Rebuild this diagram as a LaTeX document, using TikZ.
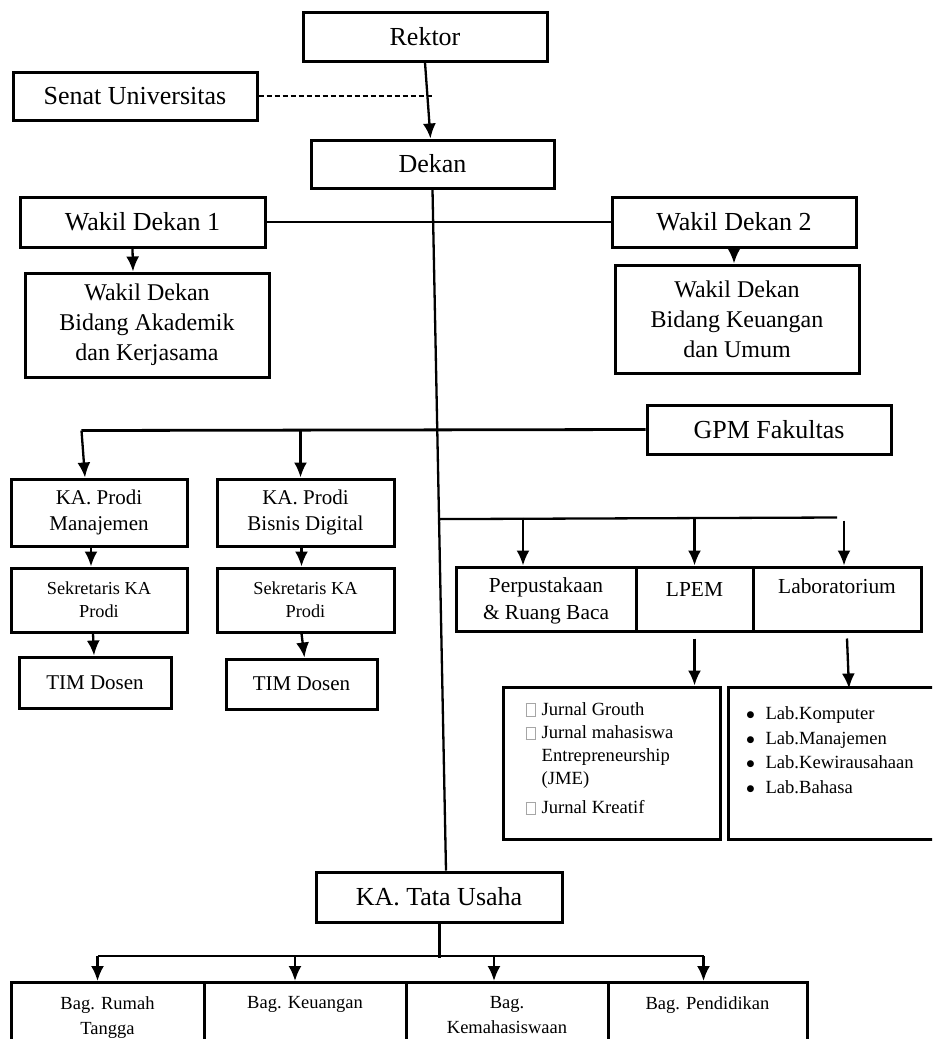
\documentclass[tikz,border=0pt]{standalone}
\usepackage{fontspec}
\setmainfont{Liberation Serif}
\newfontfamily\dejavu{DejaVu Sans}
\usetikzlibrary{positioning,arrows.meta}
\newcommand{\kotakkosong}{{\color{gray!70}\setlength{\fboxsep}{0pt}\setlength{\fboxrule}{0.7pt}\raisebox{-1pt}{\framebox[10pt]{\rule{0pt}{12pt}}}}}
\newcommand{\titik}{\raisebox{2pt}{\dejavu\fontsize{9}{9}\selectfont ●}}

\begin{document}
\begin{tikzpicture}[x=1pt,y=-1pt,
    kotak/.style={draw,line width=3pt,align=center,inner sep=0pt},
    garis/.style={line width=2.3pt},
    panah/.style={-{Latex[length=15pt,width=13pt]},line width=2.3pt},
    besar/.style={font=\fontsize{26}{31}\selectfont},
    sedang/.style={font=\fontsize{24}{30}\selectfont},
    prodi/.style={font=\fontsize{21}{26}\selectfont},
    sekr/.style={font=\fontsize{18.3}{23}\selectfont},
    unit/.style={align=center,inner sep=0pt,font=\fontsize{21.4}{27}\selectfont},
    bagian/.style={align=center,inner sep=0pt,font=\fontsize{18.5}{25}\selectfont},
    daftar/.style={inner sep=0pt,font=\fontsize{18.6}{23.3}\selectfont}]
  \useasboundingbox (0,0) rectangle (932,1039);
  \clip (0,0) rectangle (932,1039);

  % pimpinan
  \node[kotak,besar,minimum width=244pt,minimum height=49pt] (rektor) at (425,36.5) {Rektor};
  \node[kotak,besar,minimum width=244pt,minimum height=48pt] (senat) at (135,96) {Senat Universitas};
  \node[kotak,besar,minimum width=243pt,minimum height=48pt] (dekan) at (432.5,164) {Dekan};
  \node[kotak,besar,minimum width=245pt,minimum height=50pt] (wd1) at (142.5,222) {Wakil Dekan 1};
  \node[kotak,besar,minimum width=244pt,minimum height=50pt] (wd2) at (734,222) {Wakil Dekan 2};
  \node[kotak,sedang,minimum width=244pt,minimum height=104pt] (wdak) at (147,325) {Wakil Dekan\\Bidang Akademik\\dan Kerjasama};
  \node[kotak,sedang,minimum width=244pt,minimum height=108pt] (wdku) at (737,319) {Wakil Dekan\\Bidang Keuangan\\dan Umum};
  \node[kotak,besar,minimum width=244pt,minimum height=49pt] (gpm) at (769,429.5) {GPM Fakultas};

  % prodi
  \node[kotak,prodi,minimum width=176pt,minimum height=67pt] (kamj) at (99,512.5) {KA. Prodi\\Manajemen};
  \node[kotak,prodi,minimum width=177pt,minimum height=67pt] (kabd) at (305.5,512.5) {KA. Prodi\\Bisnis Digital};
  \node[kotak,sekr,minimum width=176pt,minimum height=64pt] (sekmj) at (99,600) {Sekretaris KA\\Prodi};
  \node[kotak,sekr,minimum width=177pt,minimum height=64pt] (sekbd) at (305.5,600) {Sekretaris KA\\Prodi};
  \node[kotak,prodi,minimum width=152pt,minimum height=51pt] (timmj) at (95,682.5) {TIM Dosen};
  \node[kotak,prodi,minimum width=151pt,minimum height=50pt] (timbd) at (301.5,684) {TIM Dosen};

  % unit penunjang
  \node[kotak,minimum width=180pt,minimum height=64pt] (perpus) at (546,599) {};
  \node[kotak,minimum width=117pt,minimum height=64pt] (lpem) at (694.5,599) {};
  \node[kotak,minimum width=168pt,minimum height=64pt] (lab) at (837,599) {};
  \node[unit,below=12pt of perpus.north] (perpus-t) {Perpustakaan\\\& Ruang Baca};
  \node[unit,below=17pt of lpem.north] (lpem-t) {LPEM};
  \node[unit,below=13pt of lab.north] (lab-t) {Laboratorium};

  \node[kotak,minimum width=217pt,minimum height=152pt] (jurnal) at (611.5,763) {};
  \node[daftar,below right=13pt and 24pt of jurnal.north west] (jurnal-t) {%
    \begin{tabular}{@{}l@{\hspace{6pt}}l@{}}
      \kotakkosong & Jurnal Grouth\\
      \kotakkosong & Jurnal mahasiswa\\
                   & Entrepreneurship\\
                   & (JME)\\[5pt]
      \kotakkosong & Jurnal Kreatif
    \end{tabular}};
  \node[kotak,minimum width=232pt,minimum height=152pt] (lablist) at (844,763) {};
  \node[daftar,font=\fontsize{18.6}{24.5}\selectfont,below right=17pt and 20pt of lablist.north west] (lablist-t) {%
    \begin{tabular}{@{}l@{\hspace{11pt}}l@{}}
      \titik & Lab.Komputer\\
      \titik & Lab.Manajemen\\
      \titik & Lab.Kewirausahaan\\
      \titik & Lab.Bahasa
    \end{tabular}};

  % tata usaha
  \node[kotak,besar,minimum width=246pt,minimum height=50pt] (tu) at (439,897) {KA. Tata Usaha};
  \node[kotak,minimum width=193pt,minimum height=80pt,anchor=north] (bagrt) at (107.5,981) {};
  \node[kotak,minimum width=202pt,minimum height=80pt,anchor=north] (bagku) at (305,981) {};
  \node[kotak,minimum width=202pt,minimum height=80pt,anchor=north] (bagmh) at (507,981) {};
  \node[kotak,minimum width=199pt,minimum height=80pt,anchor=north] (bagpd) at (707.5,981) {};
  \node[bagian,below=15pt of bagrt.north] (bagrt-t) {Bag. Rumah\\Tangga};
  \node[bagian,below=15pt of bagku.north] (bagku-t) {Bag. Keuangan};
  \node[bagian,below=15pt of bagmh.north] (bagmh-t) {Bag.\\Kemahasiswaan};
  \node[bagian,below=15pt of bagpd.north] (bagpd-t) {Bag. Pendidikan};

  % garis komando
  \draw[panah] (rektor.south) -- ([xshift=-2pt]dekan.north);
  \draw[line width=1.3pt,dash pattern=on 5pt off 3pt] (senat.east) -- (senat.east -| dekan.north);
  \draw[garis] (wd1.east) -- (wd2.west);
  \draw[panah] ([xshift=-10pt]wd1.south) -- ([xshift=-14pt]wdak.north);
  \draw[panah] (wd2.south) -- ([xshift=-3pt]wdku.north);
  \draw[garis] (dekan.south) -- coordinate[pos=0.484] (unitjoin) ([xshift=7pt]tu.north);

  \draw[line width=2.8pt] (gpm.west) -- ++(-564,1) coordinate (gpmkiri);
  \draw[panah] (gpmkiri) -- ([xshift=-14pt]kamj.north);
  \draw[panah] ([xshift=-5pt,yshift=48pt]kabd.north) -- ([xshift=-5pt]kabd.north);
  \draw[panah] ([xshift=-8pt]kamj.south) -- ([xshift=-8pt]sekmj.north);
  \draw[panah] ([xshift=-6pt]sekmj.south) -- ([xshift=-1pt]timmj.north);
  \draw[panah] ([xshift=-4pt]kabd.south) -- ([xshift=-4pt]sekbd.north);
  \draw[panah] ([xshift=-4pt]sekbd.south) -- ([xshift=3pt]timbd.north);

  \draw[garis] (unitjoin) -- ([yshift=48pt]lab.north);
  \draw[panah] ([xshift=-23pt,yshift=48pt]perpus.north) -- ([xshift=-23pt]perpus.north);
  \draw[panah] ([yshift=48pt]lpem.north) -- (lpem.north);
  \draw[panah] ([xshift=7pt,yshift=45pt]lab.north) -- ([xshift=7pt]lab.north);
  \draw[panah] ([yshift=-6pt]lpem.south) -- (lpem.south |- jurnal.north);
  \draw[panah] ([xshift=10pt,yshift=-6pt]lab.south) -- ([xshift=12pt,yshift=-56pt]lab.south);

  \draw[line width=3pt] (tu.south) -- ([yshift=-34pt]tu.south);
  \draw[line width=2.8pt] ([xshift=-10pt,yshift=25pt]bagrt.north) -- ([xshift=-4pt,yshift=25pt]bagpd.north);
  \draw[panah] ([xshift=-10pt,yshift=25pt]bagrt.north) -- ([xshift=-10pt]bagrt.north);
  \draw[panah] ([xshift=-10pt,yshift=25pt]bagku.north) -- ([xshift=-10pt]bagku.north);
  \draw[panah] ([xshift=-13pt,yshift=25pt]bagmh.north) -- ([xshift=-13pt]bagmh.north);
  \draw[panah] ([xshift=-4pt,yshift=25pt]bagpd.north) -- ([xshift=-4pt]bagpd.north);
\end{tikzpicture}
\end{document}
